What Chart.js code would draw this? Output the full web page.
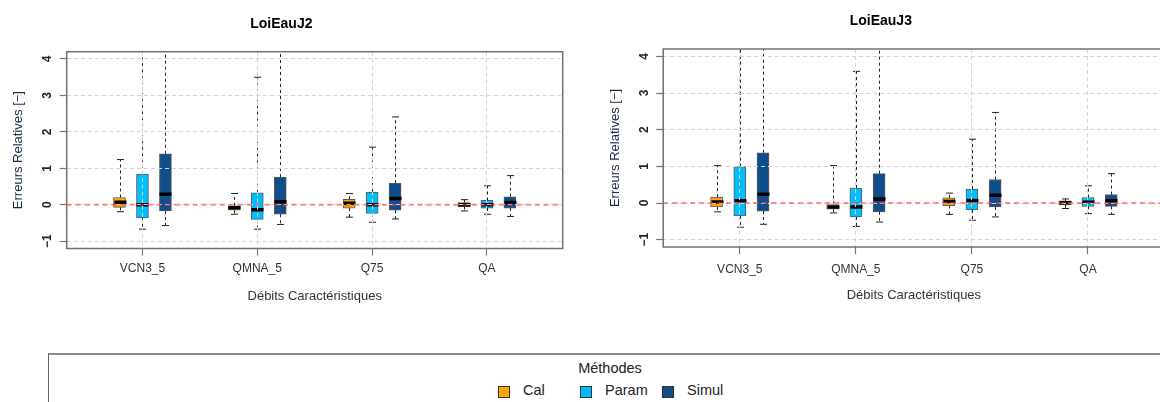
<!DOCTYPE html>
<html>
<head>
<meta charset="utf-8">
<script src="https://cdn.jsdelivr.net/npm/chart.js@4"></script>
<style>
  body { margin: 0; width: 1160px; height: 402px; overflow: hidden; background: #fff; position: relative;
         font-family: "Liberation Sans", Arial, sans-serif; }
  #c1 { position: absolute; left: 0; top: 0; }
  #c2 { position: absolute; left: 580px; top: 0; }
  #legend { position: absolute; left: 48px; top: 353px; width: 1200px; height: 80px;
            border-left: 1px solid #666; border-top: 2px solid #8a8a8a; }
  #legend .ttl { position: absolute; left: 0; width: 1122px; top: 5px; text-align: center; font-size: 14.5px; color: #222; }
  #legend .sq { position: absolute; top: 31px; width: 10px; height: 10px; border: 1px solid #333; }
  #legend .lab { position: absolute; top: 27px; font-size: 14.5px; color: #222; }
</style>
</head>
<body>
<canvas id="c1" width="580" height="320"></canvas>
<canvas id="c2" width="600" height="320"></canvas>
<div id="legend"><div class="ttl">Méthodes</div></div>
<script>
const categories = ["VCN3_5", "QMNA_5", "Q75", "QA"];
const methods = ["Cal", "Param", "Simul"];
const methodColors = ["#FFA500", "#00BFFF", "#104E8B"];
const yTicks = [-1, 0, 1, 2, 3, 4];

// one row per category: [whisker low, Q1, median, Q3, whisker high]
const j2Cal   = [[-0.19, -0.07, 0.07, 0.20, 1.24], [-0.26, -0.15, -0.08, -0.03, 0.31], [-0.34, -0.09, 0.04, 0.15, 0.31], [-0.17, -0.05, 0.00, 0.06, 0.14]];
const j2Param = [[-0.67, -0.36, 0.00, 0.84, 6.0],  [-0.67, -0.40, -0.14, 0.33, 3.50], [-0.48, -0.24, 0.00, 0.35, 1.58], [-0.26, -0.09, 0.00, 0.12, 0.52]];
const j2Simul = [[-0.57, -0.17, 0.29, 1.40, 6.5],  [-0.54, -0.26, 0.08, 0.76, 6.0],   [-0.39, -0.15, 0.17, 0.59, 2.41], [-0.32, -0.09, 0.06, 0.22, 0.80]];
const j3Cal   = [[-0.24, -0.11, 0.03, 0.16, 1.02], [-0.27, -0.17, -0.11, -0.04, 1.02], [-0.31, -0.07, 0.04, 0.14, 0.27], [-0.15, -0.05, 0.01, 0.06, 0.11]];
const j3Param = [[-0.66, -0.35, 0.06, 0.99, 6.0],  [-0.64, -0.38, -0.11, 0.41, 3.59], [-0.47, -0.19, 0.07, 0.38, 1.74], [-0.29, -0.09, 0.02, 0.15, 0.47]];
const j3Simul = [[-0.58, -0.22, 0.24, 1.37, 6.5],  [-0.52, -0.24, 0.11, 0.80, 6.0],   [-0.38, -0.11, 0.21, 0.64, 2.47], [-0.31, -0.09, 0.06, 0.23, 0.80]];

const offsets = [-0.2, 0, 0.2];
const FONT = "'Liberation Sans', Arial, sans-serif";

const boxPlugin = {
    id: "boxExtras",
    afterDatasetsDraw(chart) {
        const ctx = chart.ctx, xs = chart.scales.x, ys = chart.scales.y, a = chart.chartArea;
        ctx.save();
        ctx.beginPath();
        ctx.rect(a.left, a.top, a.right - a.left, a.bottom - a.top);
        ctx.clip();
        chart.data.datasets.forEach(ds => {
            ds.stats.forEach((s, i) => {
                const px = Math.round(xs.getPixelForValue(ds.data[i].x)) + 0.5;
                const [lo, q1, med, q3, hi] = s.map(v => ys.getPixelForValue(v));
                // whiskers
                ctx.strokeStyle = "#222";
                ctx.lineWidth = 1;
                ctx.setLineDash([3, 3]);
                ctx.beginPath();
                ctx.moveTo(px, q3); ctx.lineTo(px, hi);
                ctx.moveTo(px, q1); ctx.lineTo(px, lo);
                ctx.stroke();
                ctx.setLineDash([]);
                ctx.beginPath();
                ctx.moveTo(px - 3.5, hi); ctx.lineTo(px + 3.5, hi);
                ctx.moveTo(px - 3.5, lo); ctx.lineTo(px + 3.5, lo);
                ctx.stroke();
                // median
                ctx.strokeStyle = "#000";
                ctx.lineWidth = 3.5;
                ctx.beginPath();
                ctx.moveTo(px - 6, med); ctx.lineTo(px + 6, med);
                ctx.stroke();
            });
        });
        ctx.restore();
    },
    afterDraw(chart) {
        const ctx = chart.ctx, ys = chart.scales.y, a = chart.chartArea;
        ctx.save();
        // red reference line at 0
        const y0 = ys.getPixelForValue(0);
        ctx.strokeStyle = "rgba(255, 70, 70, 0.6)";
        ctx.lineWidth = 2;
        ctx.setLineDash([5, 4]);
        ctx.beginPath();
        ctx.moveTo(a.left, y0); ctx.lineTo(a.right, y0);
        ctx.stroke();
        ctx.setLineDash([]);
        // frame
        ctx.strokeStyle = "#707070";
        ctx.lineWidth = 1.5;
        ctx.strokeRect(a.left, a.top, a.right - a.left, a.bottom - a.top);
        // rotated y tick labels
        ctx.fillStyle = "#222";
        ctx.font = "bold 12px " + FONT;
        ctx.textAlign = "center";
        ctx.textBaseline = "middle";
        yTicks.forEach(v => {
            ctx.save();
            ctx.translate(a.left - 19, ys.getPixelForValue(v));
            ctx.rotate(-Math.PI / 2);
            ctx.fillText(String(v).replace("-", "\u2212"), 0, 0);
            ctx.restore();
        });
        ctx.restore();
    }
};

function makePanel(canvas, title, series, g) {
    const datasets = series.map((stats, k) => ({
        label: methods[k],
        data: stats.map((s, i) => ({ x: i + 1 + offsets[k], y: [s[1], s[3]] })),
        stats: stats,
        backgroundColor: methodColors[k],
        borderColor: "#5a5a5a",
        borderWidth: 1,
        borderSkipped: false,
        barThickness: 12,
        grouped: false
    }));

    return new Chart(canvas.getContext("2d"), {
        type: "bar",
        data: { datasets },
        options: {
            responsive: false,
            animation: false,
            layout: { padding: { left: g.padLeft, right: g.padRight, top: 0, bottom: 0 } },
            plugins: {
                legend: { display: false },
                tooltip: { enabled: false },
                title: {
                    display: true,
                    text: title,
                    color: "#000",
                    font: { family: FONT, size: 14, weight: "bold" },
                    padding: { top: g.titleTop, bottom: g.titleBottom }
                }
            },
            scales: {
                x: {
                    type: "linear",
                    min: 0.34,
                    max: 4.66,
                    offset: false,
                    afterBuildTicks: s => { s.ticks = categories.map((c, i) => ({ value: i + 1 })); },
                    afterFit: s => { s.height = g.xHeight; },
                    ticks: {
                        callback: (v, i) => categories[i],
                        color: "#333",
                        font: { family: FONT, size: 12 },
                        padding: g.xTickPad,
                        maxRotation: 0
                    },
                    grid: { offset: false, color: "#d4d4d4", lineWidth: 1, z: 1, tickLength: 7, tickColor: "#777", tickWidth: 1.2 },
                    border: { display: false, dash: [4, 3] },
                    title: {
                        display: true,
                        text: "Débits Caractéristiques",
                        color: "#333",
                        font: { family: FONT, size: 13 },
                        padding: { top: 0, bottom: g.xTitleBottom }
                    }
                },
                y: {
                    min: -1.2,
                    max: 4.2,
                    afterBuildTicks: s => { s.ticks = yTicks.map(v => ({ value: v })); },
                    afterFit: s => { s.width = g.yWidth; },
                    ticks: { display: false },
                    grid: { color: "#d4d4d4", lineWidth: 1, z: 1, tickLength: 7, tickColor: "#777", tickWidth: 1.2 },
                    border: { display: false, dash: [4, 3] },
                    title: {
                        display: true,
                        text: "Erreurs Relatives [\u2212]",
                        color: "#1b2a4a",
                        font: { family: FONT, size: 13 },
                        padding: { top: 10.2, bottom: 0 }
                    }
                }
            }
        },
        plugins: [boxPlugin]
    });
}

makePanel(document.getElementById("c1"), "LoiEauJ2", [j2Cal, j2Param, j2Simul], {
    padLeft: 0, padRight: 17.3, titleTop: 15.6, titleBottom: 19.3,
    yWidth: 66.7, xHeight: 71.5, xTickPad: 6.3, xTitleBottom: 15.5
});
makePanel(document.getElementById("c2"), "LoiEauJ3", [j3Cal, j3Param, j3Simul], {
    padLeft: 17, padRight: 15.4, titleTop: 12.6, titleBottom: 19.6,
    yWidth: 66.2, xHeight: 73, xTickPad: 8.1, xTitleBottom: 16.5
});

// legend built from the method list
const legend = document.getElementById("legend");
methods.forEach((m, k) => {
    const sq = document.createElement("div");
    sq.className = "sq";
    sq.style.left = (449 + k * 82) + "px";
    sq.style.background = methodColors[k];
    legend.appendChild(sq);
    const lab = document.createElement("div");
    lab.className = "lab";
    lab.style.left = (474 + k * 82) + "px";
    lab.textContent = m;
    legend.appendChild(lab);
});
</script>
</body>
</html>
